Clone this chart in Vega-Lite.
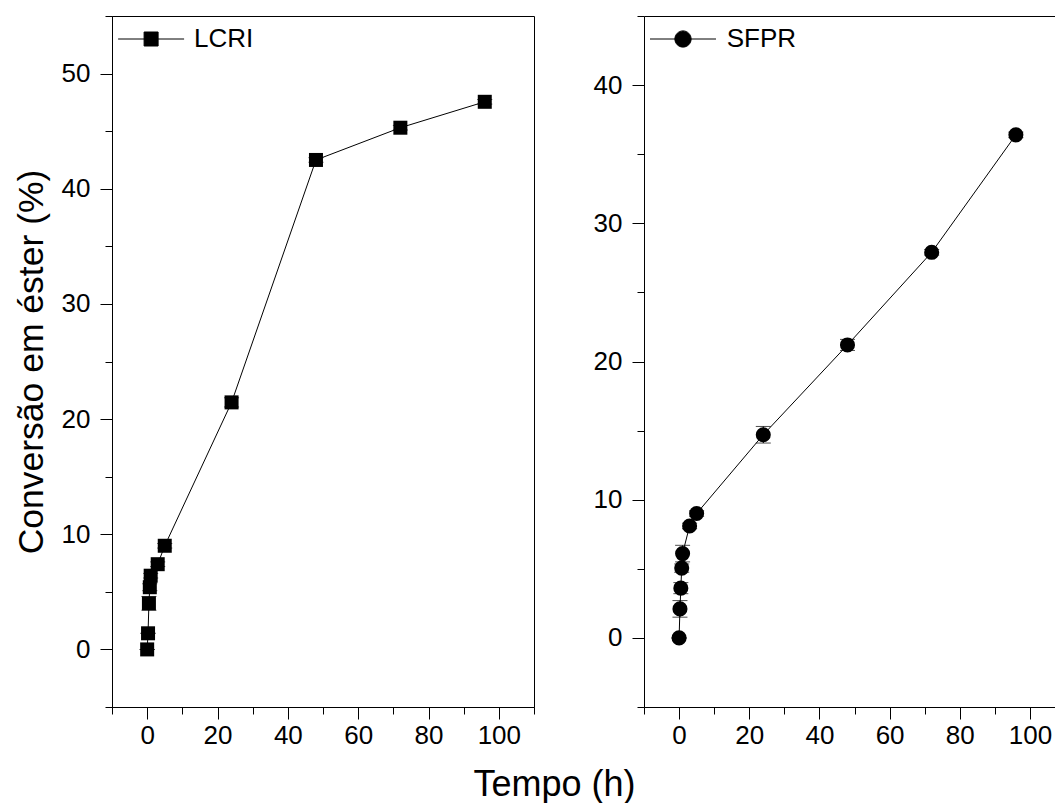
{
  "$schema": "https://vega.github.io/schema/vega-lite/v6.json",
  "padding": {"left": 13, "top": 15, "right": 0, "bottom": 0},
  "bounds": "flush",
  "spacing": 110,
  "datasets": {
    "lcri": [
      {"t": 0, "v": 0, "err": 0, "series": "LCRI"},
      {"t": 0.25, "v": 1.4, "err": 0, "series": "LCRI"},
      {"t": 0.5, "v": 4.0, "err": 0.6, "series": "LCRI"},
      {"t": 0.75, "v": 5.4, "err": 0.3, "series": "LCRI"},
      {"t": 1, "v": 6.4, "err": 0.2, "series": "LCRI"},
      {"t": 3, "v": 7.4, "err": 0.2, "series": "LCRI"},
      {"t": 5, "v": 9.0, "err": 0.2, "series": "LCRI"},
      {"t": 24, "v": 21.45, "err": 0.4, "series": "LCRI"},
      {"t": 48, "v": 42.5, "err": 0.2, "series": "LCRI"},
      {"t": 72, "v": 45.3, "err": 0.2, "series": "LCRI"},
      {"t": 96, "v": 47.55, "err": 0.2, "series": "LCRI"}
    ],
    "sfpr": [
      {"t": 0, "v": 0, "err": 0, "series": "SFPR"},
      {"t": 0.25, "v": 2.1, "err": 0.6, "series": "SFPR"},
      {"t": 0.5, "v": 3.6, "err": 0.4, "series": "SFPR"},
      {"t": 0.75, "v": 5.05, "err": 0.3, "series": "SFPR"},
      {"t": 1, "v": 6.1, "err": 0.6, "series": "SFPR"},
      {"t": 3, "v": 8.1, "err": 0.2, "series": "SFPR"},
      {"t": 5, "v": 9.0, "err": 0.2, "series": "SFPR"},
      {"t": 24, "v": 14.7, "err": 0.6, "series": "SFPR"},
      {"t": 48, "v": 21.2, "err": 0.4, "series": "SFPR"},
      {"t": 72, "v": 27.9, "err": 0.2, "series": "SFPR"},
      {"t": 96, "v": 36.4, "err": 0.2, "series": "SFPR"}
    ]
  },
  "title": {
    "text": "Tempo (h)",
    "orient": "bottom",
    "anchor": "middle",
    "fontSize": 36,
    "font": "Liberation Sans",
    "fontWeight": "normal",
    "color": "black",
    "offset": 19,
    "dx": 15
  },
  "hconcat": [
    {
      "width": 422,
      "height": 691,
      "data": {"name": "lcri"},
      "layer": [
        {
          "mark": {"type": "line", "color": "black", "strokeWidth": 1},
          "encoding": {
            "x": {"field": "t", "type": "quantitative", "scale": {"domain": [-10, 110], "nice": false, "zero": false},
              "axis": {"orient": "bottom", "values": [0, 20, 40, 60, 80, 100], "tickSize": 12, "labelPadding": 3, "title": null}},
            "y": {"field": "v", "type": "quantitative", "scale": {"domain": [-5, 55], "nice": false, "zero": false},
              "axis": {"orient": "left", "values": [0, 10, 20, 30, 40, 50], "tickSize": 12, "labelPadding": 10,
                "title": "Conversão em éster (%)", "titleFontSize": 35.5, "titlePadding": 12}}
          }
        },
        {
          "mark": {"type": "point", "shape": "square", "filled": true, "size": 196, "opacity": 1},
          "encoding": {
            "x": {"field": "t", "type": "quantitative",
              "axis": {"orient": "bottom", "values": [-10, 10, 30, 50, 70, 90, 110], "tickSize": 7, "labels": false, "domain": false, "title": null}},
            "y": {"field": "v", "type": "quantitative",
              "axis": {"orient": "left", "values": [-5, 5, 15, 25, 35, 45, 55], "tickSize": 7, "labels": false, "domain": false, "title": null}},
            "color": {"field": "series", "type": "nominal", "scale": {"range": ["black"]},
              "legend": {"orient": "none", "legendX": 26.1, "legendY": 10, "title": null,
                "symbolType": "M-4.714,0H4.714M-1,-1H1V1H-1Z", "symbolSize": 196,
                "symbolStrokeColor": "black", "symbolFillColor": "black", "symbolStrokeWidth": 1,
                "labelOffset": 30, "labelFontSize": 26, "padding": 0}}
          }
        },
        {
          "mark": {"type": "errorbar", "color": "black", "ticks": {"size": 15, "thickness": 1, "color": "black"}, "rule": {"strokeWidth": 1, "color": "black"}},
          "encoding": {
            "x": {"field": "t", "type": "quantitative", "axis": null},
            "y": {"field": "v", "type": "quantitative", "axis": null},
            "yError": {"field": "err"}
          }
        }
      ],
      "resolve": {"axis": {"x": "independent", "y": "independent"}}
    },
    {
      "width": 421,
      "height": 691,
      "view": {"stroke": null},
      "data": {"name": "sfpr"},
      "layer": [
        {
          "mark": {"type": "line", "color": "black", "strokeWidth": 1},
          "encoding": {
            "x": {"field": "t", "type": "quantitative", "scale": {"domain": [-10, 110], "nice": false, "zero": false},
              "axis": {"orient": "bottom", "values": [0, 20, 40, 60, 80, 100], "tickSize": 12, "labelPadding": 3, "title": null}},
            "y": {"field": "v", "type": "quantitative", "scale": {"domain": [-5, 45], "nice": false, "zero": false},
              "axis": {"orient": "left", "values": [0, 10, 20, 30, 40], "tickSize": 12, "labelPadding": 10, "title": null}}
          }
        },
        {
          "mark": {"type": "point", "shape": "circle", "filled": true, "size": 227, "opacity": 1},
          "encoding": {
            "x": {"field": "t", "type": "quantitative",
              "axis": {"orient": "bottom", "values": [-10, 10, 30, 50, 70, 90, 110], "tickSize": 7, "labels": false, "domain": false, "title": null}},
            "y": {"field": "v", "type": "quantitative",
              "axis": {"orient": "left", "values": [-5, 5, 15, 25, 35, 45], "tickSize": 7, "labels": false, "domain": false, "title": null}},
            "color": {"field": "series", "type": "nominal", "scale": {"range": ["black"]},
              "legend": {"orient": "none", "legendX": 26, "legendY": 10, "title": null,
                "symbolType": "M-4.714,0H4.714M1.16,0A1.16,1.16,0,1,1,-1.16,0A1.16,1.16,0,1,1,1.16,0Z", "symbolSize": 196,
                "symbolStrokeColor": "black", "symbolFillColor": "black", "symbolStrokeWidth": 1,
                "labelOffset": 30.7, "labelFontSize": 26, "padding": 0}}
          }
        },
        {
          "mark": {"type": "errorbar", "color": "black", "ticks": {"size": 15, "thickness": 1, "color": "black"}, "rule": {"strokeWidth": 1, "color": "black"}},
          "encoding": {
            "x": {"field": "t", "type": "quantitative",
              "axis": {"orient": "top", "ticks": false, "labels": false, "domain": true, "title": null}},
            "y": {"field": "v", "type": "quantitative", "axis": null},
            "yError": {"field": "err"}
          }
        }
      ],
      "resolve": {"axis": {"x": "independent", "y": "independent"}}
    }
  ],
  "resolve": {"scale": {"color": "independent"}, "legend": {"color": "independent"}},
  "config": {
    "font": "Liberation Sans",
    "view": {"stroke": "black", "strokeWidth": 1},
    "axis": {
      "grid": false,
      "domainColor": "black",
      "domainWidth": 1,
      "tickColor": "black",
      "tickWidth": 1,
      "labelColor": "black",
      "labelFont": "Liberation Sans",
      "labelFontSize": 26,
      "labelOverlap": false,
      "labelFlush": false,
      "titleColor": "black",
      "titleFont": "Liberation Sans",
      "titleFontWeight": "normal"
    },
    "legend": {"labelColor": "black", "labelFont": "Liberation Sans"}
  }
}
